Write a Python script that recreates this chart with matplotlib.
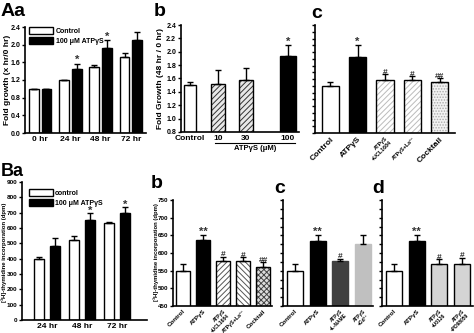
import matplotlib
matplotlib.use("Agg")
import matplotlib.pyplot as plt
import numpy as np

plt.rcParams["font.family"] = ["Liberation Sans", "DejaVu Sans"]
plt.rcParams["font.weight"] = "bold"
plt.rcParams["hatch.linewidth"] = 0.7

W, H = 474, 333

# ---- A: fold growth ----
aa_times = ["0 hr", "24 hr", "48 hr", "72 hr"]
aa_ctrl = [1.0, 1.2, 1.5, 1.72]
aa_ctrl_err = [0.0, 0.01, 0.05, 0.10]
aa_atp = [0.99, 1.45, 1.93, 2.10]
aa_atp_err = [0.0, 0.12, 0.17, 0.18]
aa_stars = ["", "*", "*", ""]

ab_labels = ["Control", "10", "30", "100"]
ab_vals = [1.50, 1.52, 1.58, 1.93]
ab_err = [0.05, 0.21, 0.18, 0.17]

ac_labels = ["Control", "ATPγS", "ATPγS\n+UCL1684", "ATPγS+La³⁺", "Cocktail"]
ac_vals = [1.50, 1.93, 1.59, 1.58, 1.55]
ac_err = [0.06, 0.17, 0.08, 0.07, 0.07]
ac_marks = ["", "*", "#", "#", "##"]

# ---- B: thymidine incorporation ----
ba_times = ["24 hr", "48 hr", "72 hr"]
ba_ctrl = [400, 520, 630]
ba_ctrl_err = [8, 30, 8]
ba_atp = [480, 650, 700]
ba_atp_err = [55, 45, 35]
ba_stars = ["", "*", "*"]

bb_labels = ["Control", "ATPγS", "ATPγS\n+UCL1684", "ATPγS+La³⁺", "Cocktail"]
bb_vals = [548, 636, 578, 576, 560]
bb_err = [22, 14, 12, 12, 14]
bb_marks = ["", "**", "#", "#", "##"]

bc_labels = ["Control", "ATPγS", "ATPγS\n+L-NAME", "ATPγS\n+Gd³⁺"]
bc_vals = [548, 635, 577, 625]
bc_err = [22, 15, 7, 27]
bc_marks = ["", "**", "#", ""]

bd_labels = ["Control", "ATPγS", "ATPγS\n+U0126", "ATPγS\n+PD98059"]
bd_vals = [548, 635, 570, 570]
bd_err = [22, 15, 12, 16]
bd_marks = ["", "**", "#", "#"]


def rect(x0, y0, x1, y1):
    return [x0 / W, 1 - y1 / H, (x1 - x0) / W, (y1 - y0) / H]


def style(ax, xlim, ylim):
    for s in ("top", "right"):
        ax.spines[s].set_visible(False)
    for s in ("left", "bottom"):
        ax.spines[s].set_linewidth(1.2)
    ax.set_xlim(*xlim)
    ax.set_ylim(*ylim)
    ax.tick_params(axis="x", length=0, labelsize=6, pad=2)
    ax.tick_params(axis="y", direction="out", length=2.5, width=1, labelsize=5, pad=1)


def bar(ax, x, h, w, face="white", hatch=None, hcol="black"):
    if hatch:
        ax.bar(x, h, w, color=face, edgecolor=hcol, hatch=hatch, linewidth=0, zorder=2)
        ax.bar(x, h, w, fill=False, edgecolor="black", linewidth=1, zorder=3)
    else:
        ax.bar(x, h, w, color=face, edgecolor="black", linewidth=1, zorder=2)


def errs(ax, x, y, e, marks=None, off=0.0, fs=8):
    ax.errorbar(x, y, yerr=[np.zeros(len(e)), e], fmt="none", ecolor="black",
                elinewidth=1, capsize=2, capthick=1, zorder=4)
    if marks:
        for xi, yi, ei, m in zip(x, y, e, marks):
            if m:
                ax.text(xi, yi + ei + off, m, ha="center", va="bottom",
                        fontsize=fs if m.startswith("*") else 6, color="#333333")


def legend(ax, anchor):
    ax.legend(loc="upper left", bbox_to_anchor=anchor, frameon=False, fontsize=5,
              handlelength=3.5, handleheight=1.25, borderaxespad=0.2, labelspacing=0.3,
              handletextpad=0.3)


fig = plt.figure(figsize=(W / 100, H / 100), dpi=100)

# Aa
ax = fig.add_axes(rect(25, 27, 146, 133))
x = np.arange(len(aa_times))
for i in x:
    bar(ax, i - 0.21, aa_ctrl[i], 0.32, "white")
    bar(ax, i + 0.21, aa_atp[i], 0.32, "black")
errs(ax, x - 0.21, aa_ctrl, aa_ctrl_err)
errs(ax, x + 0.21, aa_atp, aa_atp_err, aa_stars, off=-0.03)
style(ax, (-0.5, 3.5), (0, 2.4))
ax.set_yticks(np.arange(0, 2.41, 0.4))
ax.set_yticklabels([f"{v:.1f}" for v in np.arange(0, 2.41, 0.4)])
ax.set_xticks(x)
ax.set_xticklabels(aa_times)
ax.bar([0], [0], color="white", edgecolor="black", label="Control")
ax.bar([0], [0], color="black", edgecolor="black", label="100 μM ATPγS")
legend(ax, (0.0, 1.04))
fig.text(8 / W, 1 - 80 / H, "Fold growth (x hr/0 hr)", rotation=90, ha="center",
         va="center", fontsize=6)
fig.text(1 / W, 1 - 11 / H, "Aa", fontsize=14, va="center")

# Ab
ax = fig.add_axes(rect(181, 25, 299, 132))
xb = np.array([0, 1, 2, 3.5])
bar(ax, xb[0], ab_vals[0], 0.42, "white")
bar(ax, xb[1], ab_vals[1], 0.5, "#e8e8e8", "//////", "#333333")
bar(ax, xb[2], ab_vals[2], 0.5, "#e8e8e8", "//////", "#333333")
bar(ax, xb[3], ab_vals[3], 0.55, "black")
errs(ax, xb, ab_vals, ab_err, ["", "", "", "*"], off=-0.03)
style(ax, (-0.32, 3.9), (0.8, 2.4))
ax.set_yticks(np.arange(0.8, 2.41, 0.2))
ax.set_yticklabels([f"{v:.1f}" for v in np.arange(0.8, 2.41, 0.2)])
ax.set_xticks(xb)
ax.set_xticklabels(ab_labels)
fig.add_artist(plt.Line2D([215 / W, 295 / W], [1 - 143 / H] * 2, color="black", lw=0.8))
fig.text(255 / W, 1 - 148 / H, "ATPγS (μM)", ha="center", va="center", fontsize=5.5)
fig.text(160 / W, 1 - 78 / H, "Fold Growth (48 hr / 0 hr)", rotation=90, ha="center",
         va="center", fontsize=6)
fig.text(154 / W, 1 - 12 / H, "b", fontsize=14, va="center")

# Ac
ax = fig.add_axes(rect(315, 25, 455, 133))
xc = np.arange(len(ac_labels))
bar(ax, xc[0], ac_vals[0], 0.62, "white")
bar(ax, xc[1], ac_vals[1], 0.62, "black")
bar(ax, xc[2], ac_vals[2], 0.62, "white", "//////", "#bbbbbb")
bar(ax, xc[3], ac_vals[3], 0.62, "white", "//////", "#bbbbbb")
bar(ax, xc[4], ac_vals[4], 0.62, "#f2f2f2", "......", "#aaaaaa")
errs(ax, xc, ac_vals, ac_err, ac_marks, off=-0.03)
style(ax, (-0.55, 4.55), (0.8, 2.4))
ax.set_yticks(np.arange(0.8, 2.41, 0.1))
ax.set_yticklabels([])
ax.set_xticks(xc)
ax.set_xticklabels(ac_labels, rotation=45, ha="right", rotation_mode="anchor")
for t, fs in zip(ax.get_xticklabels(), [6, 6, 3.8, 3.8, 6]):
    t.set_fontsize(fs)
fig.text(311 / W, 1 - 13 / H, "c", fontsize=14, va="center")

# Ba
ax = fig.add_axes(rect(22, 182, 147, 320))
x = np.arange(len(ba_times))
for i in x:
    bar(ax, i - 0.23, ba_ctrl[i], 0.3, "white")
    bar(ax, i + 0.23, ba_atp[i], 0.3, "black")
errs(ax, x - 0.23, ba_ctrl, ba_ctrl_err)
errs(ax, x + 0.23, ba_atp, ba_atp_err, ba_stars, off=-15)
style(ax, (-0.71, 2.86), (0, 900))
ax.set_yticks(np.arange(0, 901, 100))
ax.tick_params(axis="y", labelsize=4.6)
ax.set_xticks(x)
ax.set_xticklabels(ba_times)
ax.bar([0], [0], color="white", edgecolor="black", label="control")
ax.bar([0], [0], color="black", edgecolor="black", label="100 μM ATPγS")
legend(ax, (0.02, 0.98))
fig.text(4 / W, 1 - 252 / H, "[³H]-thymidine incorporation (dpm)", rotation=90,
         ha="center", va="center", fontsize=4.3)
fig.text(1 / W, 1 - 171 / H, "Ba", fontsize=13, va="center")

# Bb
ax = fig.add_axes(rect(173, 200, 272, 306))
xb = np.arange(len(bb_labels))
bar(ax, xb[0], bb_vals[0], 0.7, "white")
bar(ax, xb[1], bb_vals[1], 0.7, "black")
bar(ax, xb[2], bb_vals[2], 0.7, "white", "//////", "#555555")
bar(ax, xb[3], bb_vals[3], 0.7, "white", "\\\\\\\\\\\\", "#555555")
bar(ax, xb[4], bb_vals[4], 0.7, "#dddddd", "xxxxxx", "#444444")
errs(ax, xb, bb_vals, bb_err, bb_marks, off=-4)
style(ax, (-0.5, 4.45), (450, 750))
ax.set_yticks(np.arange(450, 751, 50))
ax.tick_params(axis="y", labelsize=4.5)
ax.set_xticks(xb)
ax.set_xticklabels(bb_labels, rotation=45, ha="right", rotation_mode="anchor")
for t, fs in zip(ax.get_xticklabels(), [4.5, 4.5, 3.5, 3.8, 4.5]):
    t.set_fontsize(fs)
fig.text(156 / W, 1 - 252 / H, "[³H]-thymidine incorporation (dpm)", rotation=90,
         ha="center", va="center", fontsize=4.2)
fig.text(151 / W, 1 - 184 / H, "b", fontsize=14, va="center")

# Bc
ax = fig.add_axes(rect(283, 200, 373, 306))
xc = np.arange(len(bc_labels))
for xi, v, c in zip(xc, bc_vals, ["white", "black", "#404040", "#c0c0c0"]):
    ax.bar(xi, v, 0.7, color=c, edgecolor="black" if c in ("white", "black") else c,
           linewidth=1, zorder=2)
errs(ax, xc, bc_vals, bc_err, bc_marks, off=-4)
style(ax, (-0.53, 3.44), (450, 750))
ax.set_yticks(np.arange(450, 751, 25))
ax.set_yticklabels([])
ax.set_xticks(xc)
ax.set_xticklabels(bc_labels, rotation=45, ha="right", rotation_mode="anchor")
for t, fs in zip(ax.get_xticklabels(), [4.5, 4.5, 3.5, 3.5]):
    t.set_fontsize(fs)
fig.text(274 / W, 1 - 188 / H, "c", fontsize=14, va="center")

# Bd
ax = fig.add_axes(rect(382, 200, 473, 306))
xd = np.arange(len(bd_labels))
bar(ax, xd[0], bd_vals[0], 0.7, "white")
bar(ax, xd[1], bd_vals[1], 0.7, "black")
bar(ax, xd[2], bd_vals[2], 0.7, "#d4d4d4")
bar(ax, xd[3], bd_vals[3], 0.7, "#d4d4d4")
errs(ax, xd, bd_vals, bd_err, bd_marks, off=-4)
style(ax, (-0.53, 3.48), (450, 750))
ax.set_yticks(np.arange(450, 751, 25))
ax.set_yticklabels([])
ax.set_xticks(xd)
ax.set_xticklabels(bd_labels, rotation=45, ha="right", rotation_mode="anchor")
for t, fs in zip(ax.get_xticklabels(), [4.5, 4.5, 3.5, 3.5]):
    t.set_fontsize(fs)
fig.text(372 / W, 1 - 188 / H, "d", fontsize=14, va="center")

fig.savefig("out.png", dpi=100)
